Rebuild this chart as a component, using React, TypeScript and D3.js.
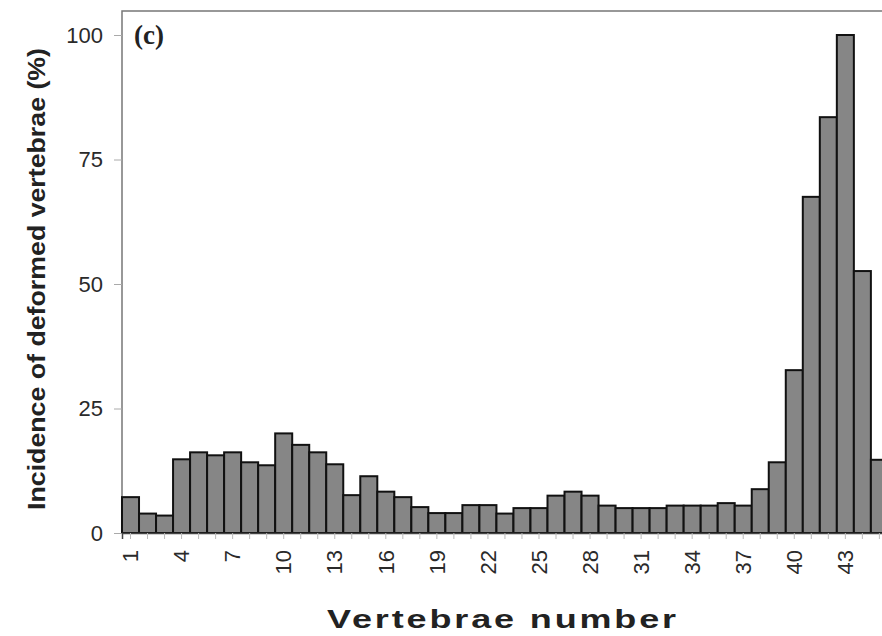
import React, { useEffect, useRef } from 'react';
import * as d3 from 'd3';

// vertebrae numbers 1..45 and incidence (%)
const vertebrae = d3.range(1, 46);
const incidence = [
  7.2, 3.9, 3.5, 14.8, 16.2, 15.6, 16.2, 14.2, 13.6, 20.0,
  17.7, 16.2, 13.8, 7.6, 11.4, 8.3, 7.2, 5.2, 4.0, 4.0,
  5.6, 5.6, 3.9, 5.0, 5.0, 7.5, 8.3, 7.5, 5.5, 5.0,
  5.0, 5.0, 5.5, 5.5, 5.5, 6.0, 5.5, 8.8, 14.2, 32.7,
  67.5, 83.5, 100, 52.6, 14.7,
];
const yTicks = [0, 25, 50, 75, 100];
const xLabels = d3.range(1, 46, 3);

const W = 882, H = 636;

export default function App() {
  const ref = useRef<SVGSVGElement>(null);

  useEffect(() => {
    document.body.style.margin = '0';
    const svg = d3.select(ref.current);
    svg.selectAll('*').remove();

    const left = 122, top = 11, bottom = 533;
    const x = d3.scaleBand<number>()
      .domain(vertebrae)
      .range([left, left + 45 * 17.02])
      .padding(0);
    const y = d3.scaleLinear().domain([0, 100]).range([bottom, 35]);

    // frame
    svg.append('path')
      .attr('d', `M${left},${bottom} V${top} H${W + 5}`)
      .attr('fill', 'none')
      .attr('stroke', '#777')
      .attr('stroke-width', 1.5);

    // bars
    svg.append('g').selectAll('rect')
      .data(vertebrae)
      .enter()
      .append('rect')
      .attr('x', d => x(d)!)
      .attr('y', (d, i) => y(incidence[i]))
      .attr('width', x.bandwidth())
      .attr('height', (d, i) => bottom - y(incidence[i]))
      .attr('fill', '#868686')
      .attr('stroke', '#111')
      .attr('stroke-width', 2);

    // y axis
    const yAxis = d3.axisLeft(y).tickValues(yTicks).tickSize(8).tickPadding(11);
    const gy = svg.append('g').attr('transform', `translate(${left},0)`).call(yAxis);
    gy.select('.domain').remove();
    gy.selectAll('line').attr('stroke', '#aaa');
    gy.selectAll('text')
      .attr('font-family', 'Liberation Sans, Arial, sans-serif')
      .attr('font-size', 22)
      .attr('fill', '#2a2a2a');

    // x axis
    const xAxis = d3.axisBottom(x).tickSize(6).tickPadding(4)
      .tickFormat(d => (xLabels.includes(d as number) ? String(d) : ''));
    const gx = svg.append('g').attr('transform', `translate(0,${bottom})`).call(xAxis);
    gx.select('.domain').attr('stroke', '#444').attr('stroke-width', 1.5);
    gx.selectAll('line').attr('stroke', '#bbb');
    gx.selectAll('text')
      .attr('font-family', 'Liberation Sans, Arial, sans-serif')
      .attr('font-size', 22)
      .attr('fill', '#2a2a2a')
      .attr('text-anchor', 'end')
      .attr('transform', 'translate(0,11) rotate(-90)')
      .attr('x', -6)
      .attr('y', 0)
      .attr('dy', '0.35em');

    // panel letter
    svg.append('text')
      .attr('x', 134).attr('y', 44)
      .attr('font-family', 'Liberation Serif, Times New Roman, serif')
      .attr('font-weight', 'bold')
      .attr('font-size', 27)
      .attr('fill', '#222')
      .text('(c)');

    // axis titles
    svg.append('text')
      .attr('transform', `translate(45,279) rotate(-90)`)
      .attr('text-anchor', 'middle')
      .attr('font-family', 'Liberation Sans, Arial, sans-serif')
      .attr('font-weight', 'bold')
      .attr('font-size', 23)
      .attr('textLength', 462)
      .attr('lengthAdjust', 'spacingAndGlyphs')
      .attr('fill', '#222')
      .text('Incidence of deformed vertebrae (%)');

    svg.append('text')
      .attr('x', 503).attr('y', 628)
      .attr('text-anchor', 'middle')
      .attr('font-family', 'Liberation Sans, Arial, sans-serif')
      .attr('font-weight', 'bold')
      .attr('font-size', 25)
      .attr('letter-spacing', 2)
      .attr('textLength', 352)
      .attr('lengthAdjust', 'spacingAndGlyphs')
      .attr('fill', '#222')
      .text('Vertebrae number');
  }, []);

  return (
    <div style={{ position: 'absolute', left: 0, top: 0 }}>
      <svg ref={ref} width={W} height={H} style={{ display: 'block', background: '#fff' }} />
    </div>
  );
}
